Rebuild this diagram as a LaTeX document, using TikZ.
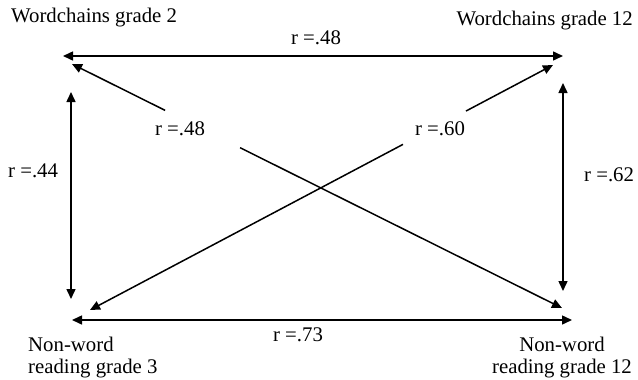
\documentclass[tikz,border=0pt]{standalone}
\usepackage{fontspec}
\setmainfont{Liberation Serif}
\usetikzlibrary{arrows.meta}
\begin{document}
\begin{tikzpicture}[x=1pt,y=-1pt,
  >={Triangle[length=10pt,width=9pt]},
  lbl/.style={font=\fontsize{20.8}{22}\selectfont, inner sep=0pt},
  conn/.style={line width=1.5pt, draw=black}]
\useasboundingbox (0,0) rectangle (638,380);
% variable labels
\node[lbl, anchor=base west] (wc2) at (11,23) {Wordchains grade 2};
\node[lbl, anchor=base east] (wc12) at (633,25) {Wordchains grade 12};
\node[lbl, anchor=north west, align=left] (nw3) at (28,337) {Non-word\\reading grade 3};
\node[lbl, anchor=north, align=center] (nw12) at (562,337) {Non-word\\reading grade 12};
% arrow end points
\coordinate (tA) at (63,56);  \coordinate (tB) at (563,56);
\coordinate (lA) at (71,92);  \coordinate (lB) at (71,299);
\coordinate (rA) at (563,83); \coordinate (rB) at (563,291);
\coordinate (bA) at (72,320); \coordinate (bB) at (572,320);
\coordinate (d1a) at (72,64); \coordinate (d1b) at (562,308);
\coordinate (d2a) at (90,310); \coordinate (d2b) at (553,65);
% correlation labels
\node[lbl, anchor=base] (rtop) at (316,45) {r =.48};
\node[lbl, anchor=base] (rbot) at (298,341) {r =.73};
\node[lbl, anchor=base west] (rleft) at (8,177) {r =.44};
\node[lbl, anchor=base west] (rright) at (584,181) {r =.62};
\node[lbl, anchor=base] (rd1) at (180,135) {r =.48};
\node[lbl, anchor=base] (rd2) at (440,135) {r =.60};
% connectors
\draw[conn,<->] (tA) -- (tB);
\draw[conn,<->] (lA) -- (lB);
\draw[conn,<->] (rA) -- (rB);
\draw[conn,<->] (bA) -- (bB);
\path (d1a) -- (d1b) coordinate[pos=0.19] (g1) coordinate[pos=0.343] (g2);
\path (d2a) -- (d2b) coordinate[pos=0.676] (g3) coordinate[pos=0.812] (g4);
\draw[conn,->] (g1) -- (d1a);
\draw[conn,->] (g2) -- (d1b);
\draw[conn,->] (g3) -- (d2a);
\draw[conn,->] (g4) -- (d2b);
\end{tikzpicture}
\end{document}
